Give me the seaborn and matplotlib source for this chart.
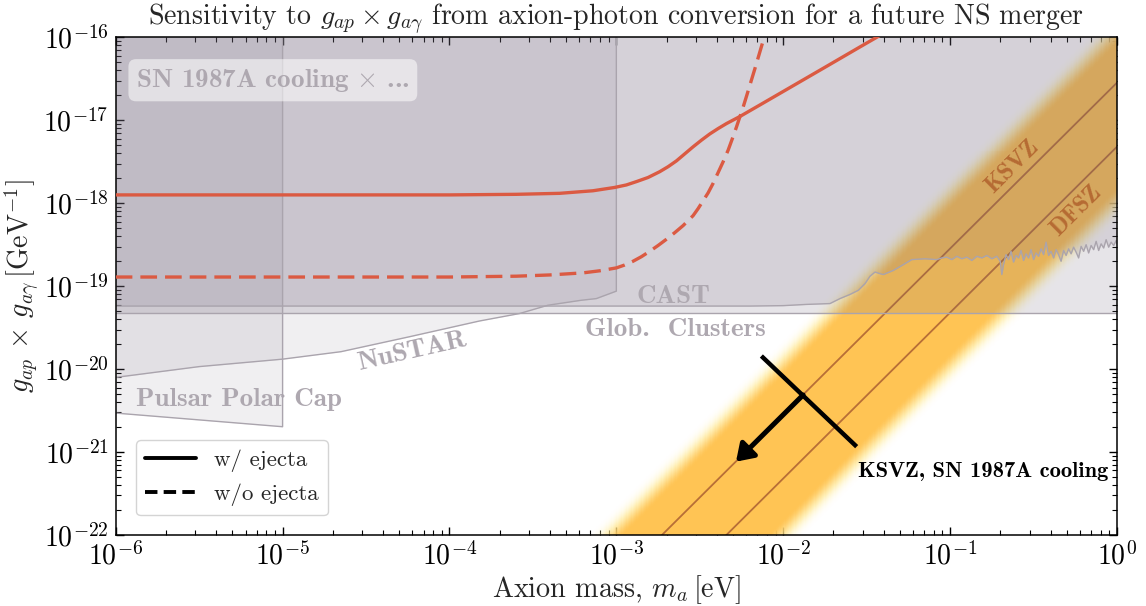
import numpy as np
import pandas as pd
import matplotlib
matplotlib.use("Agg")
import matplotlib.pyplot as plt
import seaborn as sns
from matplotlib.colors import LinearSegmentedColormap
from matplotlib.lines import Line2D

# ---------------- data (log10 values) ----------------
solid_logm = [-6.0, -4.0, -3.6, -3.34, -3.14, -3.01, -2.94, -2.88, -2.81, -2.74, -2.69, -2.64,
              -2.59, -2.54, -2.49, -2.44, -2.39, -2.34, -2.26, -2.14, -1.94, -1.74, -1.54,
              -1.44, -1.30]
solid_logg = [-17.90, -17.90, -17.893, -17.881, -17.85, -17.81, -17.78, -17.74, -17.69, -17.62,
              -17.56, -17.49, -17.405, -17.32, -17.24, -17.165, -17.10, -17.04, -16.955, -16.816,
              -16.583, -16.35, -16.116, -16.0, -15.837]

dashed_logm = [-6.0, -4.0, -3.6, -3.4, -3.2, -3.1, -3.0, -2.95, -2.9, -2.85, -2.8, -2.75,
               -2.70, -2.65, -2.60, -2.57, -2.54, -2.51, -2.48, -2.45, -2.42, -2.39, -2.36,
               -2.33, -2.30, -2.28, -2.26, -2.24, -2.22, -2.195, -2.17, -2.145, -2.12, -2.09]
dashed_logg = [-18.89, -18.89, -18.88, -18.865, -18.84, -18.815, -18.78, -18.745, -18.70, -18.645,
               -18.58, -18.51, -18.435, -18.355, -18.27, -18.21, -18.15, -18.065, -17.97, -17.875,
               -17.76, -17.63, -17.50, -17.36, -17.195, -17.08, -16.96, -16.84, -16.71, -16.545,
               -16.38, -16.21, -16.04, -15.84]

nustar_logm = [-6.0, -5.5, -5.0, -4.65, -4.24, -3.82, -3.58, -3.41, -3.21, -3.12, -3.0]
nustar_logg = [-20.10, -19.97, -19.88, -19.79, -19.61, -19.42, -19.33, -19.23, -19.17, -19.15, -19.06]

cast_logm = [-6.0, -2.2, -2.0, -1.86, -1.72, -1.66, -1.60, -1.55, -1.51, -1.48, -1.45, -1.42,
             -1.40, -1.34, -1.28, -1.23, -1.15, -1.08,
             -1.05, -1.02, -0.99, -0.96, -0.93, -0.90, -0.87, -0.84, -0.81, -0.78, -0.75, -0.72,
             -0.70, -0.69, -0.68, -0.665, -0.65, -0.635, -0.62, -0.605, -0.59, -0.575, -0.56,
             -0.545, -0.53, -0.515, -0.50, -0.485, -0.47, -0.455, -0.44, -0.425, -0.41, -0.395,
             -0.38, -0.365, -0.35, -0.335, -0.32, -0.305, -0.29, -0.275, -0.26, -0.245, -0.23,
             -0.215, -0.20, -0.185, -0.17, -0.155, -0.14, -0.125, -0.11, -0.095, -0.08, -0.065,
             -0.05, -0.035, -0.02, -0.005, 0.0]
cast_logg = [-19.24, -19.24, -19.235, -19.22, -19.21, -19.15, -19.10, -19.05, -18.97, -18.88, -18.83, -18.85,
             -18.86, -18.81, -18.74, -18.68, -18.67, -18.68,
             -18.66, -18.65, -18.68, -18.64, -18.67, -18.65, -18.69, -18.64, -18.66, -18.63, -18.67, -18.64,
             -18.70, -18.86, -18.74, -18.62, -18.68, -18.58, -18.71, -18.63, -18.66, -18.57, -18.69,
             -18.61, -18.66, -18.56, -18.68, -18.60, -18.64, -18.55, -18.62, -18.47, -18.63, -18.58,
             -18.66, -18.56, -18.62, -18.70, -18.57, -18.63, -18.55, -18.61, -18.53, -18.59, -18.66,
             -18.52, -18.58, -18.50, -18.60, -18.51, -18.56, -18.46, -18.57, -18.49, -18.54, -18.44,
             -18.53, -18.47, -18.51, -18.45, -18.49]

pulsar_m = [1e-6, 1e-5]
pulsar_g = [2.95e-21, 2.02e-21]
gc_level = 4.71e-20

ksvz_coef = 2.84e-17   # g = coef * (m / eV)^2
dfsz_coef = 4.8e-18
band_log_core = (-17.80, -16.09)  # log10(g / m^2) range of full-colour band
band_log_fade = 0.45

# ---------------- style ----------------
sns.set_theme(style="ticks")
plt.rcParams.update({
    "font.family": ["cmr10", "DejaVu Serif"],
    "mathtext.fontset": "cm",
    "axes.formatter.use_mathtext": True,
    "axes.unicode_minus": True,
    "axes.edgecolor": "black",
    "axes.linewidth": 1.1,
    "xtick.color": "black",
    "ytick.color": "black",
})

RED = "#db5a42"
GRAY = "#6e6478"
EDGE = "#aaa4ad"
LABEL = "#aea8b0"
BROWN = "#a0522d"

fig = plt.figure(figsize=(11.46, 6.06), dpi=100)
ax = fig.add_axes([0.10096, 0.11716, 0.87373, 0.82129])
ax.set_xscale("log")
ax.set_yscale("log")
TOP = 1e-15

# orange QCD band
bx = np.logspace(-6, 0, 800)
by = np.logspace(-22, -16, 500)
BX, BY = np.meshgrid(bx, by)
C = np.log10(BY) - 2 * np.log10(BX)
d = np.maximum(C - band_log_core[1], band_log_core[0] - C)
v = np.clip(1 - np.maximum(d, 0) / band_log_fade, 0, 1)
v = v * v * (3 - 2 * v)
cmap = LinearSegmentedColormap.from_list(
    "band", [(1.0, 0.97, 0.78, 0.0), (1.0, 0.91, 0.58, 0.65), (1.0, 0.77, 0.33, 1.0)])
ax.pcolormesh(bx, by, v, cmap=cmap, vmin=0, vmax=1, shading="nearest", zorder=1, rasterized=True)

mline = np.array([1e-6, 1.0])
ax.plot(mline, ksvz_coef * mline**2, color=BROWN, lw=1.3, alpha=0.75, zorder=1.5)
ax.plot(mline, dfsz_coef * mline**2, color=BROWN, lw=1.3, alpha=0.75, zorder=1.5)

# gray constraint regions
gm = np.array([1e-6, 1.0])
ax.fill_between(gm, gc_level, TOP, color=GRAY, alpha=0.17, lw=0, zorder=2)
ax.plot(gm, [gc_level, gc_level], color=EDGE, lw=1.0, zorder=2.5)

cm_ = 10 ** np.array(cast_logm)
cg_ = 10 ** np.array(cast_logg)
ax.fill_between(cm_, cg_, TOP, color=GRAY, alpha=0.14, lw=0, zorder=2)
ax.plot(cm_, cg_, color=EDGE, lw=1.0, zorder=2.5)

nm = 10 ** np.array(nustar_logm)
ng = 10 ** np.array(nustar_logg)
ax.fill_between(nm, ng, TOP, color=GRAY, alpha=0.10, lw=0, zorder=2)
ax.plot(np.r_[nm, nm[-1]], np.r_[ng, TOP], color=EDGE, lw=1.0, zorder=2.5)

ax.fill_between(pulsar_m, pulsar_g, TOP, color=GRAY, alpha=0.10, lw=0, zorder=2)
ax.plot(pulsar_m + [pulsar_m[-1]], pulsar_g + [TOP], color=EDGE, lw=1.0, zorder=2.5)

# red sensitivity curves (seaborn)
df_s = pd.DataFrame({"m": 10 ** np.array(solid_logm), "g": 10 ** np.array(solid_logg)})
df_d = pd.DataFrame({"m": 10 ** np.array(dashed_logm), "g": 10 ** np.array(dashed_logg)})
sns.lineplot(data=df_s, x="m", y="g", ax=ax, color=RED, lw=2.4, zorder=4)
sns.lineplot(data=df_d, x="m", y="g", ax=ax, color=RED, lw=2.4, zorder=4,
             linestyle=(0, (5, 2.4)))

# labels on regions
bold = "cmb10"
ax.text(0.0203, 0.9007, r"SN 1987A cooling $\times$ ...", transform=ax.transAxes,
        family=bold, fontsize=19.5, color=LABEL, ha="left", va="baseline", zorder=5,
        bbox=dict(boxstyle="round,pad=0.28", fc="white", ec="none", alpha=0.55))
ax.text(10**-2.655, 10**-19.20, "CAST", family=bold, fontsize=19.5, color=LABEL,
        ha="center", va="baseline", zorder=5)
ax.text(10**-2.644, 10**-19.601, "Glob.  Clusters", family=bold, fontsize=19.5, color=LABEL,
        ha="center", va="baseline", zorder=5)
ax.text(10**-4.222, 10**-19.79, "NuSTAR", family=bold, fontsize=19.5, color=LABEL,
        ha="center", va="center", rotation=12.7, rotation_mode="anchor", zorder=5)
ax.text(10**-5.877, 10**-20.445, "Pulsar Polar Cap", family=bold, fontsize=19.5, color=LABEL,
        ha="left", va="baseline", zorder=2.4)
ax.text(10**-0.630, 10**-17.564, "KSVZ", family=bold, fontsize=17.5, color="#b0602c",
        ha="center", va="center", rotation=44.8, rotation_mode="anchor", alpha=0.85, zorder=3)
ax.text(10**-0.2455, 10**-18.094, "DFSZ", family=bold, fontsize=17.5, color="#b0602c",
        ha="center", va="center", rotation=44.8, rotation_mode="anchor", alpha=0.85, zorder=3)
ax.text(10**-1.553, 10**-21.297, "KSVZ, SN 1987A cooling", family=bold, fontsize=16.2,
        color="black", ha="left", va="baseline", zorder=5)

# bar and arrow
ax.plot([10**-2.131, 10**-1.560], [10**-19.842, 10**-20.935], color="black", lw=3.2,
        solid_capstyle="butt", zorder=5)
ax.annotate("", xy=(10**-2.283, 10**-21.116), xytext=(10**-1.881, 10**-20.312),
            arrowprops=dict(arrowstyle="-|>,head_length=0.45,head_width=0.3", lw=3.6,
                            color="black", shrinkA=0, shrinkB=0, mutation_scale=22),
            zorder=5)

# axes
ax.set_xlim(1e-6, 1.0)
ax.set_ylim(1e-22, 1e-16)
ax.tick_params(which="both", direction="in", top=True, right=True, labelsize=20, pad=5)
ax.tick_params(which="major", length=6, width=1.0)
ax.tick_params(which="minor", length=3.5, width=0.8)
ax.set_xlabel(r"Axion mass, $m_a\,[\mathrm{eV}]$", fontsize=20.3, labelpad=2)
ax.set_ylabel(r"$g_{ap}\,\times\,g_{a\gamma}\,[\mathrm{GeV}^{-1}]$", fontsize=20.3, labelpad=1)
ax.set_title(r"Sensitivity to $g_{ap} \times g_{a\gamma}$ from axion-photon conversion for a future NS merger",
             fontsize=20.1, pad=5)
ax.grid(False)

handles = [Line2D([], [], color="black", lw=2.8),
           Line2D([], [], color="black", lw=2.8, linestyle=(0, (3.2, 1.6)))]
leg = ax.legend(handles, ["w/ ejecta", "w/o ejecta"], loc="lower left",
                bbox_to_anchor=(0.0203, 0.04), borderaxespad=0, fontsize=16.5,
                frameon=True, fancybox=True, framealpha=0.9, edgecolor="#d0d0d0",
                handlelength=2.2, labelspacing=0.5)
leg.get_frame().set_linewidth(1.0)
leg.set_zorder(6)

fig.savefig("out.png", dpi=100)
